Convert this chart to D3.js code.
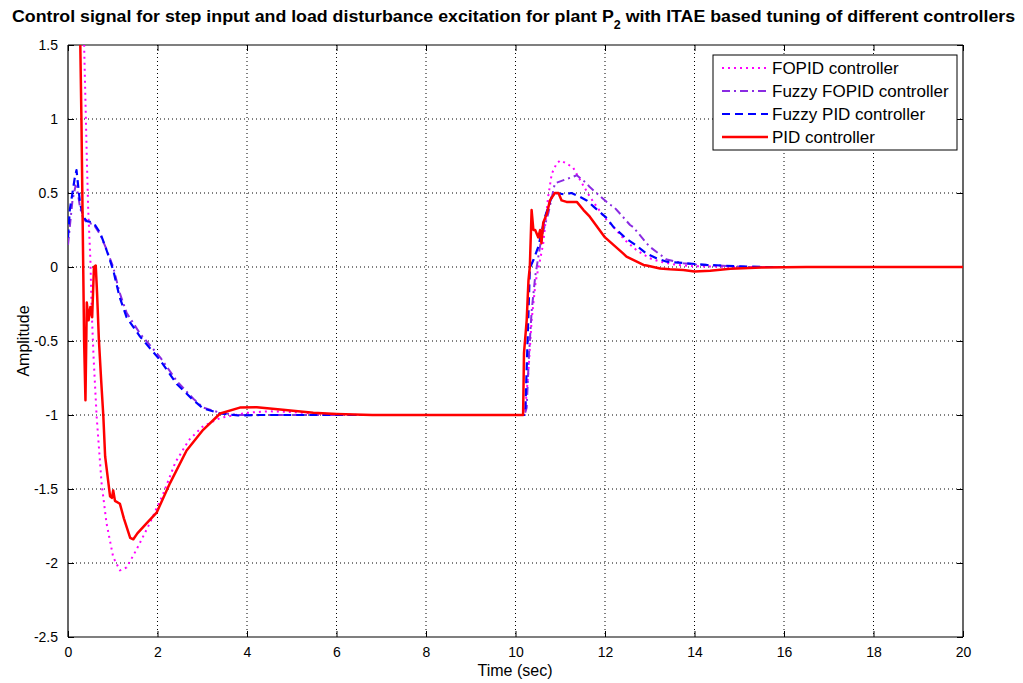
<!DOCTYPE html>
<html><head><meta charset="utf-8">
<script src="https://cdn.jsdelivr.net/npm/d3@7"></script>
<style>body{margin:0;background:#fff;} svg{display:block;}</style>
</head><body>
<svg id="chart" width="1023" height="683"></svg>
<script>
const xTicks = [0,2,4,6,8,10,12,14,16,18,20];
const yTicks = [-2.5,-2,-1.5,-1,-0.5,0,0.5,1,1.5];
const seriesNames = ["FOPID controller","Fuzzy FOPID controller","Fuzzy PID controller","PID controller"];
const seriesColors = ["#ff00ff","#8a2be2","#0000ff","#ff0000"];

const fopidT = [0,0.3,0.36,0.42,0.45,0.5,0.53,0.57,0.64,0.75,0.86,1.01,1.16,1.31,1.53,1.83,2.13,2.4,2.7,3.0,3.4,3.99,4.5,5.0,5.5,6.5,10.2,10.22,10.29,10.36,10.45,10.55,10.62,10.73,10.81,10.92,11.0,11.14,11.29,11.44,11.66,11.81,12.0,12.19,12.45,12.7,13.0,13.23,13.6,14.0,15.0,20];
const fopidV = [6,3,1.5,0.74,0.4,0.05,-0.3,-0.6,-1.01,-1.46,-1.73,-1.96,-2.05,-2.03,-1.91,-1.73,-1.53,-1.32,-1.17,-1.08,-1.02,-0.985,-0.975,-0.98,-0.99,-1.0,-1.0,-0.95,-0.70,-0.36,-0.1,0.05,0.16,0.475,0.63,0.7,0.72,0.7,0.67,0.59,0.475,0.41,0.33,0.27,0.18,0.115,0.059,0.036,0.014,0.005,0,0];

const ffopidT = [0,0.05,0.1,0.17,0.22,0.27,0.34,0.42,0.57,0.72,0.86,1.01,1.15,1.31,1.61,2.06,2.43,2.8,3.02,3.4,3.8,10.2,10.25,10.3,10.36,10.44,10.58,10.73,10.88,11.1,11.29,11.37,11.59,11.66,12.11,12.19,12.56,12.63,12.93,13.0,13.38,13.75,14.12,14.5,15.2,20];
const ffopidV = [0.15,0.3,0.45,0.55,0.5,0.4,0.33,0.3,0.29,0.22,0.12,0.0,-0.17,-0.31,-0.45,-0.61,-0.77,-0.89,-0.95,-0.985,-1.0,-1.0,-0.95,-0.6,-0.3,-0.065,0.2,0.36,0.565,0.59,0.61,0.62,0.565,0.54,0.42,0.41,0.284,0.27,0.16,0.137,0.05,0.025,0.014,0.01,0,0];

const fpidT = [0,0.04,0.1,0.15,0.19,0.23,0.27,0.34,0.42,0.57,0.72,0.86,1.01,1.15,1.31,1.61,2.06,2.43,2.8,3.02,3.4,3.8,4.29,10.2,10.22,10.29,10.32,10.36,10.4,10.51,10.66,10.81,10.92,11.1,11.25,11.4,11.59,11.74,12.04,12.19,12.48,12.63,12.93,13.15,13.38,13.82,14.27,15.0,15.5,20];
const fpidV = [0.2,0.385,0.5,0.6,0.655,0.54,0.43,0.34,0.31,0.3,0.23,0.115,-0.02,-0.2,-0.34,-0.47,-0.63,-0.79,-0.9,-0.955,-0.99,-1.003,-1.0,-1.0,-0.97,-0.31,-0.02,0.02,0.047,0.137,0.34,0.475,0.5,0.49,0.5,0.48,0.45,0.41,0.33,0.27,0.19,0.16,0.09,0.059,0.036,0.025,0.014,0.005,0,0];

const pidT = [0,0.27,0.30,0.32,0.34,0.36,0.39,0.42,0.46,0.5,0.54,0.58,0.62,0.65,0.69,0.74,0.79,0.83,0.94,0.98,1.01,1.05,1.16,1.25,1.39,1.46,1.55,1.76,1.98,2.28,2.65,3.02,3.40,3.84,4.22,4.8,5.48,6.0,6.8,10.17,10.19,10.25,10.29,10.32,10.36,10.4,10.44,10.51,10.55,10.58,10.62,10.7,10.77,10.88,10.96,11.03,11.14,11.29,11.37,11.52,11.66,12.0,12.41,12.48,12.86,12.93,13.23,13.45,13.75,14.0,14.35,14.8,15.5,16.5,20];
const pidV = [5,1.6,1.0,0.5,0.0,-0.5,-0.9,-0.24,-0.36,-0.27,-0.34,0.0,0.01,-0.18,-0.49,-0.76,-1.01,-1.28,-1.55,-1.56,-1.51,-1.58,-1.6,-1.7,-1.83,-1.84,-1.80,-1.73,-1.66,-1.46,-1.24,-1.10,-0.99,-0.95,-0.948,-0.965,-0.985,-0.993,-1.0,-1.0,-0.58,-0.36,-0.09,0.0,0.385,0.25,0.25,0.2,0.25,0.16,0.3,0.36,0.45,0.5,0.5,0.45,0.44,0.44,0.44,0.385,0.34,0.2,0.09,0.07,0.014,0.01,-0.01,-0.016,-0.02,-0.03,-0.025,-0.012,-0.003,0,0];

const seriesT = [fopidT, ffopidT, fpidT, pidT];
const seriesV = [fopidV, ffopidV, fpidV, pidV];
const dashes = ["2,4","8,4,2,4","8,5",null];
const widths = [2,2,2.2,2.5];

const svg = d3.select("#chart");
const m = {l:68, r:1023-963, t:45, b:683-637};
const W = 1023, H = 683;
const x = d3.scaleLinear().domain([0,20]).range([m.l, W-m.r]);
const y = d3.scaleLinear().domain([-2.5,1.5]).range([H-m.b, m.t]);
const font = "'Liberation Sans', Arial, sans-serif";

// grid
const grid = svg.append("g");
xTicks.slice(1,-1).forEach(t=>{
  grid.append("line").attr("x1",x(t)).attr("x2",x(t)).attr("y1",y(1.5)).attr("y2",y(-2.5))
    .attr("stroke","#000").attr("stroke-width",1).attr("stroke-dasharray","1,3");
});
yTicks.slice(1,-1).forEach(v=>{
  grid.append("line").attr("x1",x(0)).attr("x2",x(20)).attr("y1",y(v)).attr("y2",y(v))
    .attr("stroke","#000").attr("stroke-width",1).attr("stroke-dasharray","1,3");
});

// axes
const xAxis = d3.axisBottom(x).tickValues(xTicks).tickSize(-6).tickPadding(10).tickFormat(d3.format("d"));
const yAxis = d3.axisLeft(y).tickValues(yTicks).tickSize(-6).tickPadding(10).tickFormat(d=>String(d));
const gx = svg.append("g").attr("transform",`translate(0,${y(-2.5)})`).call(xAxis);
const gy = svg.append("g").attr("transform",`translate(${x(0)},0)`).call(yAxis);
const gxt = svg.append("g").attr("transform",`translate(0,${y(1.5)})`).call(d3.axisTop(x).tickValues(xTicks).tickSize(-6).tickFormat(""));
const gyr = svg.append("g").attr("transform",`translate(${x(20)},0)`).call(d3.axisRight(y).tickValues(yTicks).tickSize(-6).tickFormat(""));
[gx,gy,gxt,gyr].forEach(g=>{
  g.select(".domain").attr("stroke","#000").attr("stroke-width",1.2);
  g.selectAll(".tick line").attr("stroke","#000");
  g.selectAll("text").attr("font-family",font).attr("font-size",14).attr("fill","#000");
});
gxt.selectAll("path.domain").attr("d",`M${x(0)},0H${x(20)}`);
gyr.selectAll("path.domain").attr("d",`M0,${y(1.5)}V${y(-2.5)}`);
gx.select(".domain").attr("d",`M${x(0)},0H${x(20)}`);
gy.select(".domain").attr("d",`M0,${y(1.5)}V${y(-2.5)}`);
gy.selectAll("text").attr("dy","0.35em");

// clip
svg.append("defs").append("clipPath").attr("id","clip").append("rect")
  .attr("x",x(0)).attr("y",y(1.5)).attr("width",x(20)-x(0)).attr("height",y(-2.5)-y(1.5));

const line = d3.line().x(d=>x(d[0])).y(d=>y(d[1]));
const plot = svg.append("g").attr("clip-path","url(#clip)");
seriesNames.forEach((name,i)=>{
  const pts = seriesT[i].map((t,j)=>[t, seriesV[i][j]]);
  const p = plot.append("path").datum(pts).attr("d",line).attr("fill","none")
    .attr("stroke",seriesColors[i]).attr("stroke-width",widths[i]).attr("stroke-linejoin","round");
  if (dashes[i]) p.attr("stroke-dasharray",dashes[i]);
});

// legend
const lg = svg.append("g");
lg.append("rect").attr("x",713).attr("y",55).attr("width",244).attr("height",95)
  .attr("fill","#fff").attr("stroke","#000").attr("stroke-width",1);
seriesNames.forEach((name,i)=>{
  const yy = 68 + i*23;
  const l = lg.append("line").attr("x1",722).attr("x2",768).attr("y1",yy).attr("y2",yy)
    .attr("stroke",seriesColors[i]).attr("stroke-width",widths[i]);
  if (dashes[i]) l.attr("stroke-dasharray",dashes[i]);
  lg.append("text").attr("x",772).attr("y",yy+6).text(name)
    .attr("font-family",font).attr("font-size",17).attr("fill","#000");
});

// title
const title = svg.append("text").attr("x",0).attr("y",0)
  .attr("font-family",font).attr("font-size",17).attr("font-weight","bold").attr("fill","#000");
title.append("tspan").text("Control signal for step input and load disturbance excitation for plant P");
title.append("tspan").attr("baseline-shift","sub").attr("font-size",12).text("2");
title.append("tspan").text(" with ITAE based tuning of different controllers");
const tw = title.node().getBBox().width;
const targetW = 1004;
title.attr("transform",`translate(12,22) scale(${targetW/tw},1)`);

svg.append("text").attr("x",515).attr("y",676).attr("text-anchor","middle")
  .attr("font-family",font).attr("font-size",16).text("Time (sec)");
svg.append("text").attr("transform",`translate(29,${y(-0.5)}) rotate(-90)`).attr("text-anchor","middle")
  .attr("font-family",font).attr("font-size",16).text("Amplitude");
</script>
</body></html>
